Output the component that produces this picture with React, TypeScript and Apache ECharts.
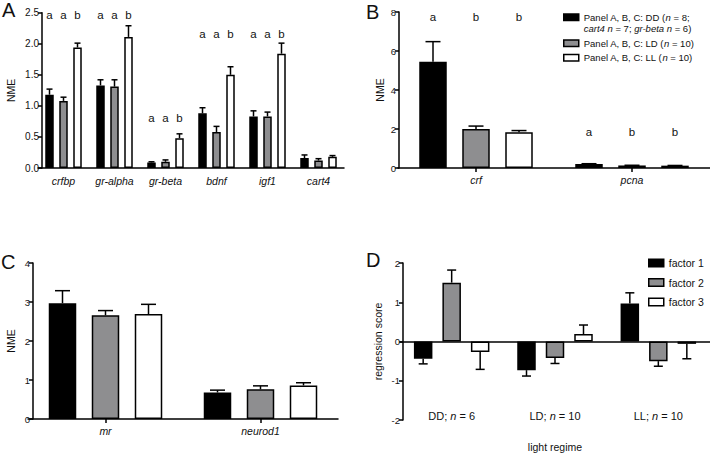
import React, { useEffect, useRef } from "react";
import * as echarts from "echarts";

const FONT = "'Liberation Sans', Arial, Helvetica, sans-serif";

const groupNames = ["Panel A, B, C: DD", "Panel A, B, C: LD", "Panel A, B, C: LL"];
const factorNames = ["factor 1", "factor 2", "factor 3"];
const fills = ["#000000", "#8e8e90", "#ffffff"];

// Panel A
const genesA = ["crfbp", "gr-alpha", "gr-beta", "bdnf", "igf1", "cart4"];
const meanA_DD = [1.18, 1.33, 0.09, 0.88, 0.83, 0.16];
const semA_DD = [0.09, 0.09, 0.01, 0.09, 0.09, 0.05];
const meanA_LD = [1.08, 1.31, 0.1, 0.58, 0.83, 0.12];
const semA_LD = [0.06, 0.11, 0.03, 0.09, 0.07, 0.03];
const meanA_LL = [1.94, 2.11, 0.48, 1.5, 1.84, 0.18];
const semA_LL = [0.07, 0.18, 0.07, 0.13, 0.17, 0.02];
const lettersA = [["a", "a", "b"], ["a", "a", "b"], ["a", "a", "b"], ["a", "a", "b"], ["a", "a", "b"], []];
const letterYA = [2.47, 2.47, 0.81, 2.16, 2.16, 0];

// Panel B
const genesB = ["crf", "pcna"];
const meanB_DD = [5.45, 0.2];
const semB_DD = [1.03, 0.02];
const meanB_LD = [2.0, 0.13];
const semB_LD = [0.15, 0.01];
const meanB_LL = [1.83, 0.12];
const semB_LL = [0.09, 0.01];
const lettersB = [["a", "b", "b"], ["a", "b", "b"]];
const letterYB = [7.74, 1.87];

// Panel C
const genesC = ["mr", "neurod1"];
const meanC_DD = [2.97, 0.68];
const semC_DD = [0.32, 0.06];
const meanC_LD = [2.66, 0.76];
const semC_LD = [0.12, 0.09];
const meanC_LL = [2.69, 0.86];
const semC_LL = [0.25, 0.07];

// Panel D
const regimesD = ["DD; n = 6", "LD; n = 10", "LL; n = 10"];
const factor1 = [-0.44, -0.73, 0.97];
const semF1 = [0.13, 0.15, 0.27];
const factor2 = [1.5, -0.42, -0.5];
const semF2 = [0.32, 0.14, 0.13];
const factor3 = [-0.27, 0.19, -0.06];
const semF3 = [0.44, 0.23, 0.38];

type Panel = {
  idx: number;
  names: string[];
  means: number[][];
  sems: number[][];
  bw: number;
  gap: number;
  cap: number;
};

function panelSeries(p: Panel): any[] {
  const out: any[] = [];
  p.means.forEach((m, bi) => {
    out.push({
      type: "bar",
      name: p.names[bi],
      xAxisIndex: p.idx,
      yAxisIndex: p.idx,
      data: m,
      barWidth: p.bw,
      barGap: `${(p.gap / p.bw) * 100}%`,
      itemStyle: { color: fills[bi], borderColor: "#000", borderWidth: 1.5 },
      silent: true,
      z: 2,
    });
  });
  const errData: number[][] = [];
  p.means.forEach((m, bi) => {
    m.forEach((v, ci) => errData.push([ci, v, bi, p.sems[bi][ci]]));
  });
  const step = p.bw + p.gap;
  out.push({
    type: "custom",
    xAxisIndex: p.idx,
    yAxisIndex: p.idx,
    encode: { x: 0, y: 1 },
    data: errData,
    silent: true,
    z: 3,
    clip: false,
    itemStyle: { color: "#000" },
    renderItem: (_params: any, api: any) => {
      const ci = api.value(0);
      const m = api.value(1);
      const bi = api.value(2);
      const s = api.value(3);
      const end = m >= 0 ? m + s : m - s;
      const p0 = api.coord([ci, m]);
      const p1 = api.coord([ci, end]);
      const x = p0[0] + (bi - 1) * step;
      return {
        type: "group",
        children: [
          { type: "line", shape: { x1: x, y1: p0[1], x2: x, y2: p1[1] }, style: { stroke: "#000", lineWidth: 1.5 } },
          {
            type: "line",
            shape: { x1: x - p.cap / 2, y1: p1[1], x2: x + p.cap / 2, y2: p1[1] },
            style: { stroke: "#000", lineWidth: 1.5 },
          },
        ],
      };
    },
  });
  return out;
}

function letterSeries(idx: number, letters: string[][], ys: number[], step: number): any {
  const data: number[][] = [];
  const texts: string[] = [];
  letters.forEach((row, ci) => {
    row.forEach((t, bi) => {
      data.push([ci, ys[ci], bi]);
      texts.push(t);
    });
  });
  return {
    type: "custom",
    xAxisIndex: idx,
    yAxisIndex: idx,
    encode: { x: 0, y: 1 },
    data,
    silent: true,
    z: 4,
    clip: false,
    itemStyle: { color: "#111" },
    renderItem: (params: any, api: any) => {
      const c = api.coord([api.value(0), api.value(1)]);
      const x = c[0] + (api.value(2) - 1) * step;
      return {
        type: "text",
        x,
        y: c[1],
        style: {
          text: texts[params.dataIndex],
          align: "center",
          verticalAlign: "middle",
          fontSize: 11.5,
          fontFamily: FONT,
          fill: "#111",
        },
      };
    },
  };
}

const axisLineStyle = { lineStyle: { color: "#000", width: 1.5 } };

function yAxisCfg(idx: number, min: number, max: number, interval: number, name: string, nameGap: number, offset: number, decimals: number, fs: number) {
  return {
    type: "value",
    gridIndex: idx,
    min,
    max,
    interval,
    offset,
    name,
    nameLocation: "middle",
    nameGap,
    nameTextStyle: { color: "#111", fontSize: 10.5, fontFamily: FONT },
    axisLine: { show: true, ...axisLineStyle },
    axisTick: { show: true, length: 4, lineStyle: { color: "#000", width: 1.5 } },
    axisLabel: {
      color: "#111",
      fontSize: fs,
      margin: 3,
      fontFamily: FONT,
      formatter: (v: number) => v.toFixed(decimals),
    },
    splitLine: { show: false },
  };
}

function xAxisCfg(idx: number, data: string[], ticks: boolean, margin: number) {
  return {
    type: "category",
    gridIndex: idx,
    data,
    axisLine: { show: true, ...axisLineStyle },
    axisTick: { show: ticks, alignWithLabel: true, length: 4, lineStyle: { color: "#000", width: 1.5 } },
    axisLabel: { color: "#111", fontSize: 10.5, fontStyle: "italic", margin, fontFamily: FONT },
    splitLine: { show: false },
  };
}

export default function App() {
  const ref = useRef<HTMLDivElement>(null);
  useEffect(() => {
    if (!ref.current) return;
    const chart = echarts.init(ref.current, undefined, { renderer: "svg" });

    const pA: Panel = { idx: 0, names: groupNames, means: [meanA_DD, meanA_LD, meanA_LL], sems: [semA_DD, semA_LD, semA_LL], bw: 8.5, gap: 5.5, cap: 6 };
    const pB: Panel = { idx: 1, names: groupNames, means: [meanB_DD, meanB_LD, meanB_LL], sems: [semB_DD, semB_LD, semB_LL], bw: 27.5, gap: 15.5, cap: 15 };
    const pC: Panel = { idx: 2, names: groupNames, means: [meanC_DD, meanC_LD, meanC_LL], sems: [semC_DD, semC_LD, semC_LL], bw: 27.5, gap: 15.5, cap: 15 };
    const pD: Panel = { idx: 3, names: factorNames, means: [factor1, factor2, factor3], sems: [semF1, semF2, semF3], bw: 18.5, gap: 10, cap: 9 };

    const seriesD = panelSeries(pD);
    seriesD[0].markLine = {
      silent: true,
      symbol: "none",
      label: { show: false },
      lineStyle: { color: "#000", width: 1.5, type: "solid" },
      data: [{ yAxis: 0 }],
    };

    const titleStyle = { fontSize: 20, fontWeight: "normal", color: "#111", fontFamily: FONT };
    const option: any = {
      animation: false,
      backgroundColor: "#ffffff",
      textStyle: { fontFamily: FONT },
      title: [
        { text: "A", left: 2, top: 0, padding: 0, textStyle: titleStyle },
        { text: "B", left: 366, top: 2, padding: 0, textStyle: titleStyle },
        { text: "C", left: 1, top: 252, padding: 0, textStyle: titleStyle },
        { text: "D", left: 366, top: 250, padding: 0, textStyle: titleStyle },
      ],
      legend: [
        {
          data: [
            { name: groupNames[0], textStyle: { padding: [11.5, 0, 0, 0] } },
            { name: groupNames[1] },
            { name: groupNames[2] },
          ],
          orient: "vertical",
          left: 563,
          top: 0,
          padding: 0,
          itemWidth: 15,
          itemHeight: 6.5,
          itemGap: 3,
          icon: "rect",
          selectedMode: false,
          itemStyle: { borderColor: "#000", borderWidth: 1.5 },
          textStyle: {
            color: "#111",
            fontSize: 9.5,
            lineHeight: 11.5,
            fontFamily: FONT,
            rich: { i: { fontStyle: "italic", fontSize: 9.5, lineHeight: 11.5, color: "#111", fontFamily: FONT } },
          },
          formatter: (name: string) => {
            if (name === groupNames[0]) return name + " ({i|n} = 8;\n{i|cart4 n} = 7; {i|gr-beta n} = 6)";
            return name + " ({i|n} = 10)";
          },
        },
        {
          data: factorNames,
          orient: "vertical",
          left: 648,
          top: 256,
          padding: 0,
          itemWidth: 15,
          itemHeight: 7.5,
          itemGap: 5.5,
          icon: "rect",
          selectedMode: false,
          itemStyle: { borderColor: "#000", borderWidth: 1.5 },
          textStyle: { color: "#111", fontSize: 10.5, lineHeight: 14, fontFamily: FONT },
        },
      ],
      grid: [
        { left: 38, top: 12.7, width: 306, height: 155.3 },
        { left: 398, top: 12, width: 312, height: 156 },
        { left: 28, top: 263, width: 310, height: 156 },
        { left: 400, top: 263, width: 310, height: 157 },
      ],
      xAxis: [
        xAxisCfg(0, genesA, false, 7),
        xAxisCfg(1, genesB, true, 6),
        xAxisCfg(2, genesC, true, 6),
        {
          type: "category",
          gridIndex: 3,
          data: regimesD,
          name: "light regime",
          nameLocation: "middle",
          nameGap: 21,
          nameTextStyle: { color: "#111", fontSize: 10.5, fontFamily: FONT },
          axisLine: { show: false, onZero: false },
          axisTick: { show: false },
          axisLabel: {
            color: "#111",
            fontSize: 11,
            margin: -10,
            fontFamily: FONT,
            formatter: (v: string) => v.replace(/\bn\b/, "{i|n}"),
            rich: { i: { fontStyle: "italic", fontSize: 11, color: "#111", fontFamily: FONT } },
          },
          splitLine: { show: false },
        },
      ],
      yAxis: [
        yAxisCfg(0, 0, 2.5, 0.5, "NME", 26, -4, 1, 10),
        yAxisCfg(1, 0, 8, 2, "NME", 14, -1, 0, 9.5),
        yAxisCfg(2, 0, 4, 1, "NME", 17, -5, 0, 9.5),
        yAxisCfg(3, -2, 2, 1, "regression score", 20, -3, 0, 9.5),
      ],
      series: [
        ...panelSeries(pA),
        letterSeries(0, lettersA, letterYA, pA.bw + pA.gap),
        ...panelSeries(pB),
        letterSeries(1, lettersB, letterYB, pB.bw + pB.gap),
        ...panelSeries(pC),
        ...seriesD,
      ],
    };
    chart.setOption(option);
    return () => chart.dispose();
  }, []);
  return <div ref={ref} style={{ position: "fixed", left: 0, top: 0, width: 710, height: 455, background: "#fff" }} />;
}
